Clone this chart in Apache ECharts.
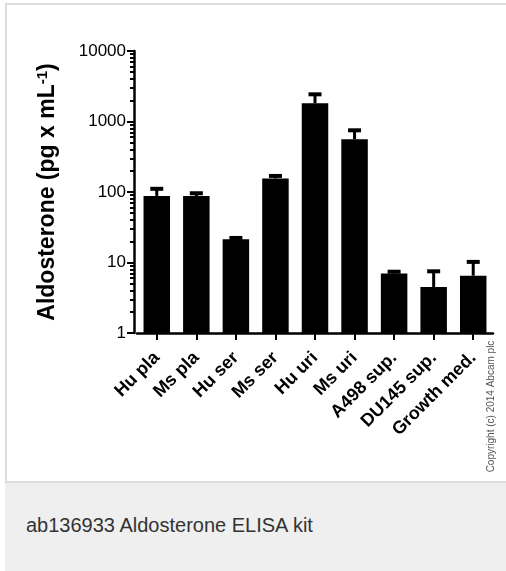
<!DOCTYPE html>
<html><head><meta charset="utf-8">
<script src="https://cdn.jsdelivr.net/npm/echarts@6/dist/echarts.min.js"></script>
<style>
html,body{margin:0;padding:0;background:#fff;width:506px;height:571px;overflow:hidden;font-family:"Liberation Sans",Arial,sans-serif;}
#frame{position:absolute;left:5px;top:3px;width:501px;height:476px;border-left:2px solid #dddddd;border-top:2px solid #dddddd;border-bottom:2px solid #dddddd;}
#cap{position:absolute;left:5px;top:483px;width:501px;height:88px;background:#eeefee;}
#capText{position:absolute;left:21px;top:32px;font-size:20px;line-height:20px;color:#333;white-space:nowrap;}
#chart{position:absolute;left:0;top:0;width:506px;height:482px;}
</style></head>
<body>
<div id="frame"></div>
<div id="cap"><div id="capText">ab136933 Aldosterone ELISA kit</div></div>
<div id="chart"></div>
<script>
const categories = ['Hu pla', 'Ms pla', 'Hu ser', 'Ms ser', 'Hu uri', 'Ms uri', 'A498 sup.', 'DU145 sup.', 'Growth med.'];
const means = [88, 87.5, 21.3, 156, 1810, 558, 7.0, 4.5, 6.5];
const errorTops = [111, 96, 22.3, 169, 2430, 750, 7.4, 7.5, 10.2];
const majorTicks = [1, 10, 100, 1000, 10000];
const minorTicks = [2, 3, 4, 5, 6, 7, 8, 9, 20, 30, 40, 50, 60, 70, 80, 90, 200, 300, 400, 500, 600, 700, 800, 900, 2000, 3000, 4000, 5000, 6000, 7000, 8000, 9000];

const FONT = 'Liberation Sans, Arial, sans-serif';
const chart = echarts.init(document.getElementById('chart'), null, {renderer: 'canvas'});
chart.setOption({
  backgroundColor: 'transparent',
  animation: false,
  textStyle: {fontFamily: FONT},
  grid: {left: 137, right: 13, top: 51, height: 282, containLabel: false},
  xAxis: {
    type: 'category',
    data: categories,
    boundaryGap: true,
    axisLine: {show: true, lineStyle: {color: '#000', width: 2.5}},
    axisTick: {show: true, alignWithLabel: true, length: 7, lineStyle: {color: '#000', width: 2}},
    axisLabel: {interval: 0, rotate: 45, margin: 22, color: '#000', fontSize: 18, fontWeight: 'bold', fontFamily: FONT},
    splitLine: {show: false}
  },
  yAxis: [{
    type: 'log',
    logBase: 10,
    min: 1,
    max: 10000,
    position: 'left',
    offset: 3,
    name: 'Aldosterone (pg x mL{sup|-1})',
    nameLocation: 'middle',
    nameRotate: 90,
    nameGap: 73,
    nameTextStyle: {
      color: '#000', fontSize: 23, fontWeight: 'bold', fontFamily: FONT,
      rich: {sup: {fontSize: 15, fontWeight: 'bold', color: '#000', fontFamily: FONT, verticalAlign: 'top', lineHeight: 26}}
    },
    axisLine: {show: true, lineStyle: {color: '#000', width: 2.5}},
    axisTick: {show: true, length: 7, customValues: majorTicks, lineStyle: {color: '#000', width: 2}},
    axisLabel: {customValues: majorTicks, margin: 8, color: '#000', fontSize: 17, fontFamily: FONT,
      formatter: v => String(Math.round(v))},
    splitLine: {show: false},
    minorTick: {show: false}
  }, {
    type: 'log',
    logBase: 10,
    min: 1,
    max: 10000,
    position: 'left',
    offset: 3,
    axisLine: {show: false},
    axisTick: {show: true, length: 4, customValues: minorTicks, lineStyle: {color: '#000', width: 2}},
    axisLabel: {show: false},
    splitLine: {show: false}
  }],
  graphic: [{
    type: 'text', x: 491.5, y: 406.5, rotation: Math.PI / 2,
    style: {text: 'Copyright (c) 2014 Abcam plc', fontSize: 10, fill: '#555', align: 'center', verticalAlign: 'middle', fontFamily: FONT}
  }],
  series: [{
    type: 'bar',
    data: means,
    barWidth: 26.5,
    itemStyle: {color: '#000'},
    yAxisIndex: 0
  }, {
    type: 'custom',
    yAxisIndex: 0,
    data: categories.map((c, i) => [i, means[i], errorTops[i]]),
    encode: {x: 0, y: [1, 2]},
    renderItem: function (params, api) {
      const x = api.value(0);
      const base = api.coord([x, api.value(1)]);
      const top = api.coord([x, api.value(2)]);
      const capW = 13;
      return {type: 'group', children: [
        {type: 'line', shape: {x1: base[0], y1: base[1], x2: top[0], y2: top[1]}, style: {stroke: '#000', lineWidth: 3}},
        {type: 'line', shape: {x1: top[0] - capW / 2, y1: top[1], x2: top[0] + capW / 2, y2: top[1]}, style: {stroke: '#000', lineWidth: 4}}
      ]};
    },
    z: 3
  }]
});
</script>
</body></html>
